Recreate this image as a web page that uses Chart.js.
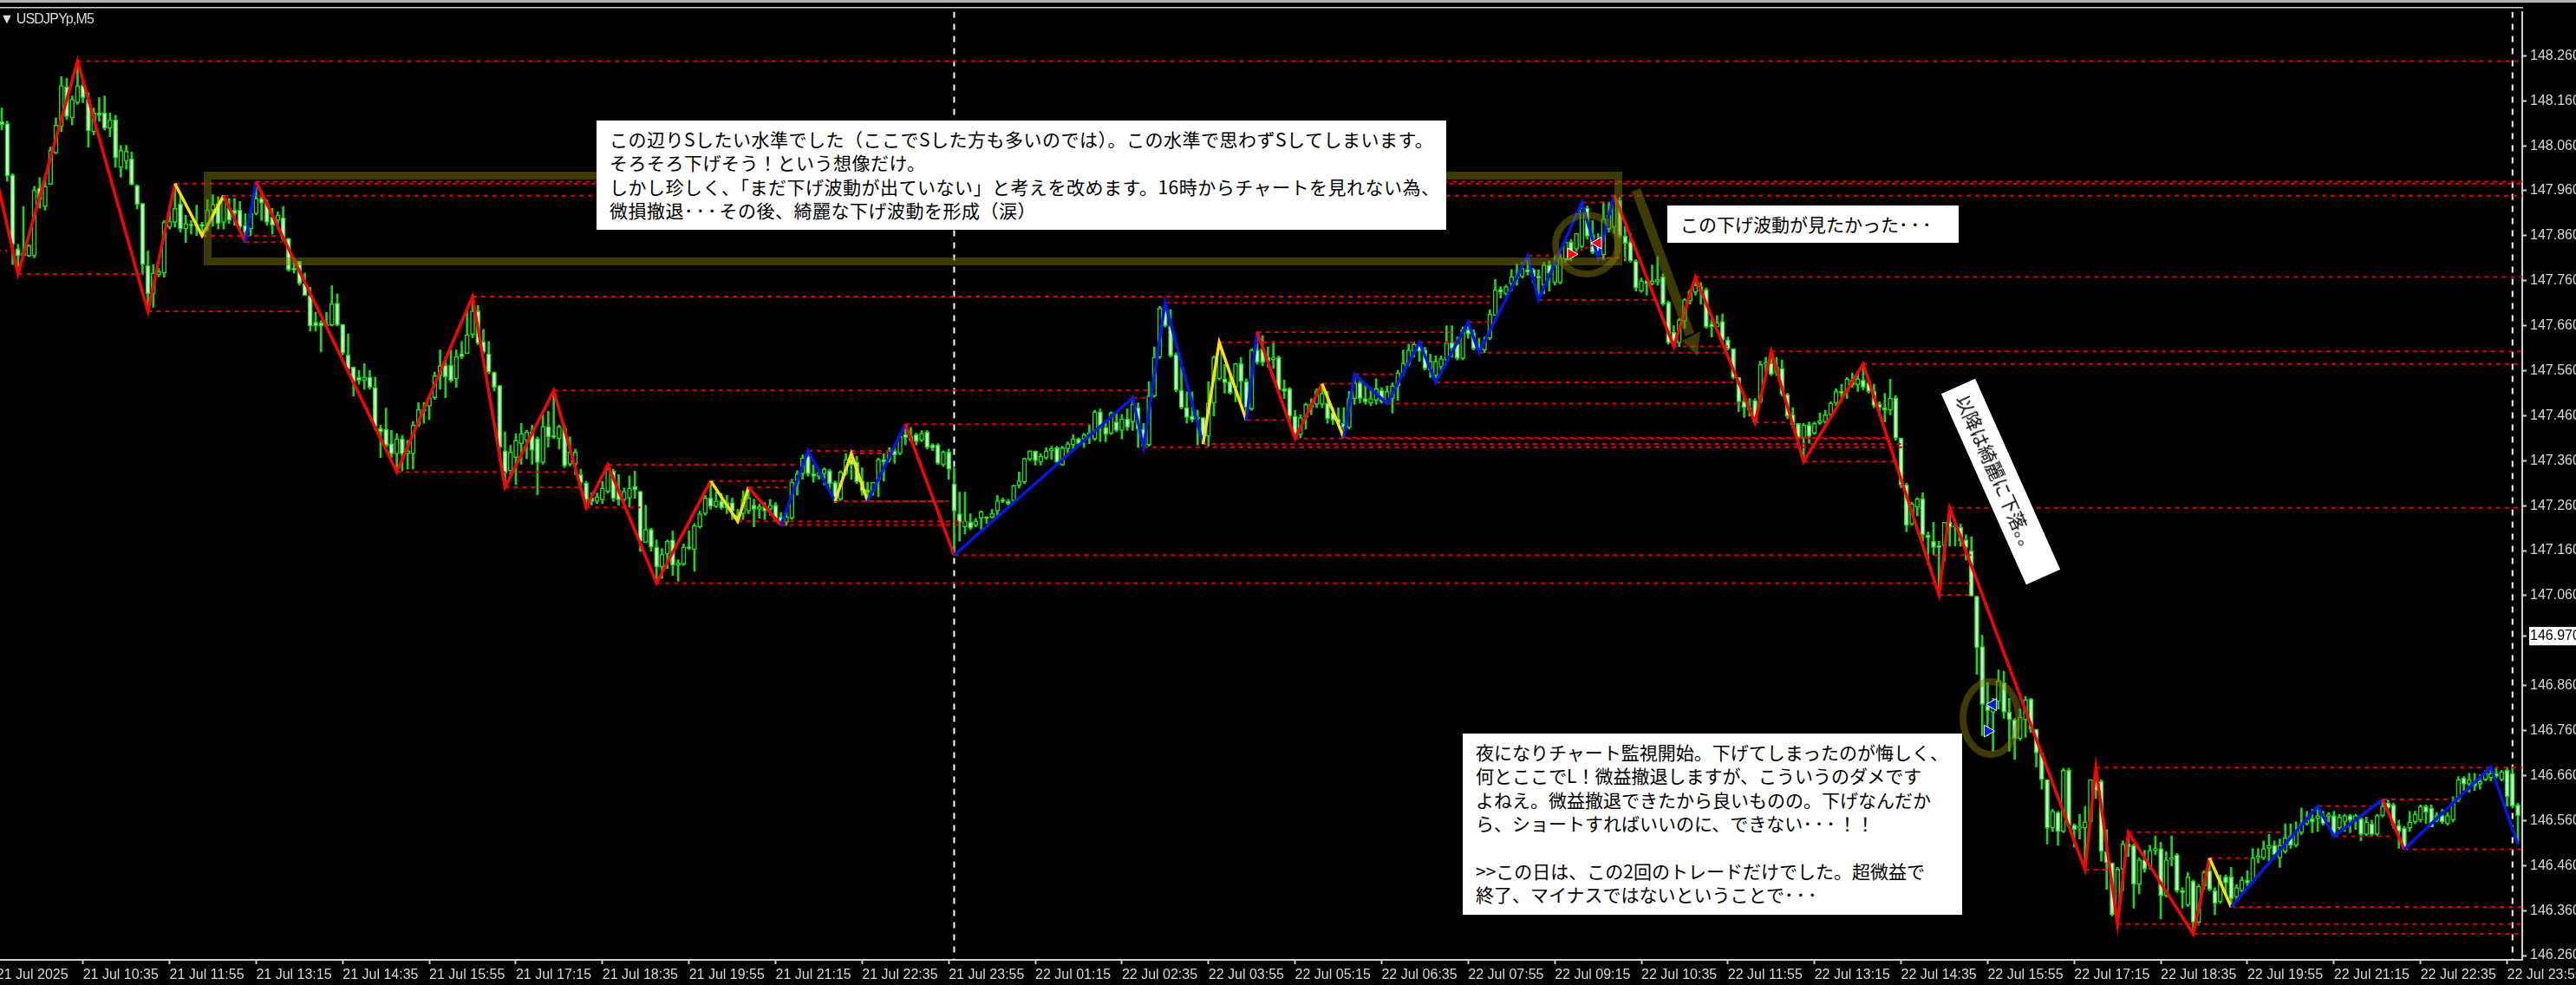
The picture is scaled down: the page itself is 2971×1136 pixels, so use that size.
<!DOCTYPE html>
<html>
<head>
<meta charset="utf-8">
<title>USDJPYp,M5</title>
<script src="https://cdn.jsdelivr.net/npm/chart.js@4/dist/chart.umd.min.js"></script>
<style>
html, body { margin: 0; padding: 0; background: #000; overflow: hidden; }
#wrap { position: relative; width: 2971px; height: 1136px; }
canvas { position: absolute; left: 0; top: 0; }
.note { position: absolute; background: #fff; color: #000; white-space: pre; box-sizing: border-box;
        font-family: "Noto Sans CJK JP", sans-serif; font-size: 21px; line-height: 27.4px; }
.dots { letter-spacing: 3px; }
#symbol { position: absolute; left: 0; top: 13px; color: #ddd; white-space: pre; letter-spacing: -0.8px;
          font-family: "Liberation Sans", sans-serif; font-size: 16px; }
</style>
</head>
<body>
<div id="wrap">
<canvas id="chart" width="2971" height="1136"></canvas>
<div id="symbol">▼ USDJPYp,M5</div>
<div class="note" style="left:688px;top:139px;width:980px;height:126px;padding:8px 0 0 15px;letter-spacing:.5px">この辺りSしたい水準でした（ここでSした方も多いのでは）。この水準で思わずSしてしまいます。
そろそろ下げそう！という想像だけ。
しかし珍しく、「まだ下げ波動が出ていない」と考えを改めます。16時からチャートを見れない為、
微損撤退<span class="dots">･･･</span>その後、綺麗な下げ波動を形成（涙）</div>
<div class="note" style="left:1923px;top:237px;width:336px;height:43px;padding:8px 0 0 15px">この下げ波動が見たかった<span class="dots">･･･</span></div>
<div class="note" style="left:2187px;top:534px;width:241px;height:43px;padding:8px 0 0 12px;transform:rotate(66deg)">以降は綺麗に下落。。</div>
<div class="note" style="left:1687px;top:846px;width:576px;height:209px;padding:8px 0 0 15px">夜になりチャート監視開始。下げてしまったのが悔しく、
何とここでL！微益撤退しますが、こういうのダメです
よねえ。微益撤退できたから良いものの。下げなんだか
ら、ショートすればいいのに、できない<span class="dots">･･･</span>！！

&gt;&gt;この日は、この2回のトレードだけでした。超微益で
終了、マイナスではないということで<span class="dots">･･･</span></div>
</div>
<script>
// 5 minute bars, one entry per bar
var opens = [
148.140,148.114,148.109,147.995,147.830,147.815,147.815,147.815,147.966,147.925,
147.974,148.044,148.103,148.191,148.122,148.156,148.194,148.163,148.091,148.133,
148.134,148.099,148.118,148.012,148.025,148.031,147.972,147.932,147.794,147.731,
147.773,147.777,147.879,147.890,147.931,147.875,147.885,147.882,147.885,147.883,
147.917,147.932,147.890,147.921,147.917,147.917,147.883,147.875,147.909,147.943,
147.932,147.902,147.894,147.900,147.854,147.788,147.803,147.754,147.727,147.668,
147.667,147.659,147.661,147.710,147.663,147.595,147.568,147.546,147.538,147.546,
147.523,147.432,147.430,147.398,147.375,147.409,147.375,147.375,147.439,147.474,
147.481,147.500,147.549,147.572,147.572,147.542,147.598,147.598,147.640,147.693,
147.625,147.598,147.557,147.527,147.382,147.337,147.367,147.398,147.405,147.424,
147.409,147.356,147.436,147.413,147.409,147.432,147.352,147.352,147.329,147.311,
147.277,147.269,147.273,147.292,147.337,147.295,147.273,147.277,147.303,147.292,
147.178,147.207,147.168,147.124,147.152,147.184,147.127,147.130,147.168,147.162,
147.213,147.242,147.277,147.258,147.271,147.255,147.267,147.239,147.242,147.248,
147.261,147.252,147.258,147.252,147.261,147.235,147.223,147.232,147.309,147.331,
147.370,147.331,147.325,147.331,147.338,147.312,147.274,147.331,147.363,147.357,
147.315,147.296,147.293,147.319,147.363,147.363,147.382,147.376,147.418,147.414,
147.418,147.405,147.424,147.395,147.395,147.351,147.379,147.309,147.242,147.213,
147.224,147.216,147.232,147.235,147.234,147.248,147.271,147.270,147.271,147.305,
147.312,147.363,147.381,147.357,147.366,147.382,147.389,147.350,147.386,147.395,
147.408,147.408,147.418,147.408,147.469,147.434,147.421,147.446,147.427,147.453,
147.446,147.478,147.430,147.395,147.504,147.590,147.696,147.660,147.596,147.517,
147.478,147.459,147.453,147.456,147.414,147.488,147.542,147.542,147.536,147.523,
147.576,147.536,147.475,147.606,147.609,147.590,147.585,147.590,147.520,147.520,
147.459,147.418,147.456,147.485,147.485,147.485,147.488,147.466,147.453,147.443,
147.434,147.498,147.533,147.498,147.488,147.494,147.517,147.491,147.498,147.526,
147.555,147.574,147.603,147.619,147.606,147.561,147.549,147.568,147.584,147.622,
147.619,147.587,147.651,147.644,147.609,147.606,147.632,147.683,147.741,147.731,
147.753,147.769,147.769,147.785,147.785,147.769,147.750,147.795,147.756,147.756,
147.808,147.846,147.830,147.836,147.922,147.862,147.839,147.817,147.875,147.878,
147.938,147.859,147.846,147.804,147.737,147.760,147.753,147.757,147.769,147.712,
147.645,147.622,147.670,147.715,147.734,147.747,147.740,147.664,147.657,147.670,
147.629,147.609,147.545,147.491,147.478,147.494,147.491,147.574,147.577,147.555,
147.565,147.507,147.462,147.443,147.411,147.440,147.421,147.443,147.446,147.462,
147.488,147.514,147.514,147.539,147.529,147.539,147.533,147.514,147.485,147.478,
147.472,147.499,147.410,147.306,147.219,147.257,147.275,147.195,147.181,147.170,
147.170,147.223,147.212,147.212,147.184,147.160,147.059,146.947,146.815,146.801,
146.825,146.867,146.801,146.784,146.742,146.784,146.830,146.763,146.710,146.651,
146.543,146.578,146.536,146.672,146.550,146.543,146.543,146.557,146.648,146.648,
146.491,146.466,146.351,146.452,146.508,146.505,146.418,146.473,146.459,146.494,
146.498,146.393,146.473,146.484,146.404,146.372,146.425,146.334,146.414,146.449,
146.404,146.379,146.435,146.435,146.390,146.404,146.428,146.425,146.477,146.477,
146.498,146.505,146.477,146.491,146.526,146.505,146.533,146.553,146.564,146.564,
146.571,146.568,146.571,146.543,146.557,146.571,146.561,146.564,146.529,146.553,
146.529,146.571,146.599,146.595,146.550,146.543,146.543,146.557,146.561,146.592,
146.588,146.561,146.571,146.553,146.561,146.606,146.655,146.641,146.644,146.641,
146.651,146.655,146.665,146.651,146.672,146.665,146.595];
var closes = [
148.120,148.106,147.993,147.841,147.815,147.822,147.838,147.962,147.940,147.970,
148.050,148.106,148.194,148.125,148.163,148.194,148.167,148.093,148.133,148.128,
148.099,148.118,148.033,148.050,148.048,147.974,147.930,147.796,147.731,147.777,
147.780,147.890,147.892,147.921,147.875,147.887,147.882,147.885,147.881,147.917,
147.930,147.887,147.940,147.894,147.909,147.879,147.868,147.909,147.943,147.932,
147.890,147.883,147.906,147.853,147.784,147.784,147.754,147.727,147.659,147.659,
147.659,147.663,147.709,147.661,147.599,147.564,147.534,147.538,147.546,147.523,
147.436,147.424,147.394,147.375,147.409,147.375,147.382,147.439,147.474,147.470,
147.500,147.549,147.571,147.546,147.538,147.591,147.591,147.640,147.693,147.621,
147.601,147.557,147.523,147.390,147.333,147.379,147.405,147.420,147.424,147.383,
147.356,147.436,147.413,147.412,147.436,147.348,147.379,147.379,147.311,147.273,
147.269,147.280,147.299,147.341,147.276,147.273,147.292,147.299,147.295,147.181,
147.207,147.168,147.124,147.152,147.181,147.127,147.133,147.168,147.165,147.216,
147.242,147.277,147.258,147.271,147.255,147.267,147.248,147.229,147.274,147.277,
147.252,147.258,147.248,147.261,147.229,147.226,147.235,147.312,147.331,147.366,
147.331,147.325,147.334,147.341,147.309,147.271,147.335,147.363,147.350,147.312,
147.293,147.290,147.312,147.363,147.357,147.382,147.373,147.414,147.411,147.405,
147.402,147.421,147.389,147.388,147.354,147.379,147.341,147.248,147.223,147.226,
147.210,147.226,147.247,147.232,147.243,147.271,147.269,147.264,147.305,147.315,
147.365,147.382,147.360,147.370,147.382,147.387,147.357,147.389,147.398,147.408,
147.398,147.418,147.421,147.469,147.434,147.418,147.466,147.427,147.453,147.434,
147.485,147.430,147.392,147.504,147.590,147.699,147.660,147.593,147.517,147.478,
147.456,147.451,147.456,147.414,147.488,147.590,147.609,147.533,147.510,147.576,
147.536,147.478,147.606,147.578,147.578,147.581,147.587,147.517,147.514,147.459,
147.418,147.456,147.485,147.478,147.514,147.510,147.453,147.450,147.443,147.434,
147.498,147.533,147.498,147.491,147.498,147.520,147.491,147.514,147.526,147.555,
147.577,147.606,147.619,147.603,147.565,147.581,147.581,147.587,147.622,147.610,
147.587,147.651,147.641,147.609,147.603,147.625,147.686,147.740,147.734,147.747,
147.769,147.766,147.788,147.779,147.769,147.766,147.795,147.776,147.795,147.811,
147.846,147.811,147.865,147.922,147.859,147.823,147.817,147.897,147.906,147.938,
147.859,147.843,147.804,147.744,147.760,147.753,147.760,147.763,147.708,147.622,
147.616,147.673,147.718,147.737,147.750,147.737,147.657,147.657,147.667,147.629,
147.609,147.545,147.491,147.478,147.472,147.446,147.574,147.577,147.552,147.568,
147.507,147.459,147.440,147.411,147.440,147.414,147.443,147.449,147.462,147.488,
147.514,147.510,147.542,147.529,147.542,147.523,147.514,147.482,147.478,147.472,
147.499,147.410,147.306,147.216,147.264,147.275,147.195,147.188,147.167,147.167,
147.223,147.212,147.215,147.181,147.167,147.059,146.944,146.818,146.804,146.825,
146.871,146.801,146.784,146.742,146.790,146.829,146.763,146.710,146.651,146.543,
146.581,146.536,146.672,146.550,146.540,146.546,146.557,146.651,146.627,146.491,
146.466,146.351,146.452,146.508,146.501,146.418,146.473,146.452,146.494,146.498,
146.393,146.473,146.477,146.404,146.400,146.435,146.334,146.414,146.445,146.407,
146.376,146.425,146.421,146.386,146.411,146.428,146.421,146.477,146.480,146.498,
146.505,146.484,146.505,146.522,146.505,146.536,146.553,146.561,146.557,146.571,
146.553,146.573,146.533,146.568,146.571,146.561,146.571,146.529,146.557,146.529,
146.571,146.592,146.588,146.550,146.536,146.498,146.557,146.574,146.592,146.578,
146.546,146.571,146.557,146.571,146.599,146.651,146.641,146.651,146.637,146.648,
146.665,146.665,146.658,146.669,146.613,146.592,146.571];
var highs = [
148.160,148.144,148.115,147.998,147.841,147.925,147.841,147.970,147.989,147.989,
148.057,148.122,148.214,148.210,148.171,148.248,148.205,148.178,148.144,148.167,
148.171,148.133,148.128,148.061,148.061,148.046,147.974,147.932,147.826,147.796,
147.788,147.894,147.921,147.976,147.951,147.906,147.894,147.928,147.890,147.940,
147.951,147.947,147.949,147.943,147.943,147.936,147.909,147.913,147.979,147.959,
147.940,147.921,147.913,147.925,147.855,147.803,147.803,147.777,147.746,147.690,
147.671,147.690,147.749,147.731,147.663,147.642,147.568,147.561,147.576,147.561,
147.546,147.439,147.477,147.428,147.420,147.417,147.405,147.447,147.489,147.489,
147.504,147.557,147.606,147.591,147.606,147.606,147.625,147.693,147.725,147.705,
147.652,147.625,147.557,147.527,147.424,147.394,147.420,147.443,147.428,147.439,
147.413,147.462,147.470,147.515,147.439,147.439,147.413,147.386,147.341,147.314,
147.288,147.288,147.314,147.351,147.341,147.329,147.299,147.326,147.337,147.292,
147.261,147.210,147.184,147.165,147.184,147.204,147.140,147.175,147.204,147.220,
147.248,147.283,147.315,147.290,147.287,147.283,147.277,147.252,147.293,147.301,
147.274,147.264,147.267,147.274,147.267,147.245,147.245,147.319,147.338,147.373,
147.381,147.351,147.341,147.344,147.341,147.315,147.338,147.376,147.376,147.370,
147.344,147.312,147.312,147.366,147.376,147.389,147.389,147.418,147.441,147.434,
147.421,147.427,147.427,147.398,147.398,147.382,147.386,147.344,147.290,147.290,
147.242,147.232,147.248,147.235,147.252,147.283,147.277,147.274,147.306,147.335,
147.366,147.382,147.382,147.376,147.389,147.392,147.392,147.392,147.402,147.418,
147.411,147.421,147.440,147.472,147.475,147.450,147.469,147.469,147.463,147.475,
147.500,147.488,147.443,147.536,147.613,147.703,147.711,147.696,147.600,147.568,
147.513,147.513,147.472,147.456,147.536,147.593,147.623,147.574,147.555,147.577,
147.590,147.542,147.609,147.646,147.638,147.613,147.625,147.593,147.539,147.523,
147.472,147.462,147.488,147.498,147.520,147.531,147.514,147.478,147.478,147.478,
147.514,147.552,147.542,147.530,147.523,147.542,147.523,147.526,147.533,147.561,
147.606,147.619,147.624,147.623,147.612,147.597,147.593,147.593,147.660,147.660,
147.635,147.657,147.668,147.651,147.632,147.635,147.696,147.763,147.747,147.750,
147.785,147.798,147.801,147.816,147.788,147.785,147.801,147.804,147.814,147.820,
147.846,147.852,147.865,147.934,147.926,147.894,147.865,147.935,147.935,147.950,
147.945,147.881,147.865,147.807,147.766,147.763,147.795,147.814,147.776,147.715,
147.660,147.676,147.721,147.740,147.768,147.756,147.744,147.676,147.683,147.686,
147.635,147.609,147.545,147.507,147.498,147.498,147.581,147.590,147.603,147.590,
147.584,147.510,147.478,147.443,147.443,147.446,147.446,147.466,147.472,147.491,
147.520,147.530,147.545,147.555,147.552,147.575,147.542,147.530,147.491,147.510,
147.541,147.505,147.410,147.310,147.268,147.278,147.289,147.202,147.223,147.181,
147.223,147.255,147.223,147.219,147.195,147.191,147.059,146.972,146.867,146.832,
146.895,146.892,146.832,146.787,146.808,146.836,146.832,146.763,146.710,146.651,
146.585,146.581,146.676,146.676,146.553,146.574,146.592,146.651,146.678,146.651,
146.540,146.466,146.456,146.515,146.534,146.508,146.477,146.494,146.505,146.526,
146.512,146.491,146.526,146.487,146.411,146.445,146.428,146.418,146.449,146.477,
146.411,146.439,146.439,146.456,146.418,146.435,146.449,146.498,146.498,146.515,
146.529,146.515,146.519,146.553,146.553,146.557,146.588,146.581,146.585,146.592,
146.581,146.578,146.581,146.574,146.574,146.574,146.574,146.571,146.568,146.561,
146.574,146.607,146.606,146.599,146.561,146.547,146.581,146.581,146.595,146.595,
146.595,146.578,146.585,146.578,146.613,146.658,146.658,146.665,146.665,146.662,
146.672,146.679,146.676,146.672,146.679,146.679,146.599];
var lows = [
148.090,148.095,147.981,147.796,147.775,147.815,147.813,147.811,147.921,147.917,
147.974,148.042,148.091,148.118,148.106,148.152,148.156,148.057,148.084,148.114,
148.095,148.080,148.012,147.990,148.008,147.972,147.919,147.773,147.692,147.701,
147.769,147.768,147.875,147.879,147.868,147.845,147.864,147.860,147.860,147.871,
147.881,147.875,147.875,147.887,147.883,147.875,147.846,147.860,147.906,147.894,
147.883,147.864,147.875,147.849,147.781,147.777,147.750,147.727,147.648,147.648,
147.602,147.659,147.659,147.659,147.595,147.561,147.504,147.530,147.519,147.519,
147.428,147.367,147.390,147.367,147.335,147.337,147.341,147.341,147.436,147.443,
147.451,147.496,147.519,147.500,147.534,147.523,147.587,147.598,147.633,147.618,
147.598,147.553,147.515,147.360,147.301,147.322,147.307,147.352,147.364,147.352,
147.284,147.352,147.390,147.409,147.386,147.345,147.348,147.329,147.299,147.256,
147.261,147.265,147.265,147.288,147.269,147.261,147.269,147.257,147.276,147.158,
147.181,147.159,147.088,147.098,147.120,147.105,147.092,147.127,147.162,147.114,
147.210,147.239,147.252,147.255,147.252,147.242,147.229,147.223,147.229,147.242,
147.213,147.232,147.229,147.239,147.226,147.217,147.216,147.229,147.283,147.319,
147.325,147.312,147.319,147.306,147.293,147.267,147.271,147.328,147.319,147.309,
147.283,147.271,147.283,147.280,147.315,147.357,147.354,147.373,147.395,147.402,
147.395,147.402,147.386,147.382,147.351,147.347,147.319,147.150,147.181,147.197,
147.207,147.213,147.207,147.220,147.232,147.239,147.267,147.261,147.267,147.299,
147.309,147.360,147.350,147.350,147.363,147.363,147.354,147.349,147.376,147.386,
147.392,147.389,147.398,147.405,147.402,147.402,147.418,147.424,147.408,147.427,
147.427,147.389,147.389,147.392,147.501,147.587,147.657,147.590,147.513,147.475,
147.443,147.446,147.395,147.397,147.392,147.459,147.539,147.510,147.507,147.491,
147.491,147.453,147.472,147.574,147.571,147.568,147.565,147.514,147.498,147.440,
147.409,147.411,147.430,147.462,147.478,147.478,147.443,147.440,147.440,147.411,
147.430,147.485,147.488,147.485,147.482,147.485,147.488,147.487,147.466,147.494,
147.549,147.571,147.590,147.581,147.561,147.545,147.534,147.555,147.581,147.590,
147.584,147.584,147.632,147.606,147.601,147.600,147.629,147.683,147.721,147.728,
147.737,147.750,147.766,147.772,147.756,147.717,147.731,147.737,147.750,147.753,
147.801,147.804,147.823,147.833,147.852,147.820,147.812,147.807,147.868,147.865,
147.855,147.804,147.801,147.737,147.734,147.728,147.750,147.750,147.705,147.619,
147.614,147.613,147.654,147.708,147.728,147.708,147.654,147.635,147.657,147.625,
147.606,147.542,147.469,147.456,147.459,147.445,147.488,147.558,147.549,147.549,
147.504,147.453,147.434,147.395,147.358,147.399,147.418,147.440,147.443,147.459,
147.482,147.498,147.498,147.523,147.514,147.517,147.510,147.478,147.459,147.446,
147.462,147.405,147.300,147.202,147.216,147.237,147.181,147.129,147.150,147.062,
147.136,147.170,147.170,147.170,147.139,147.059,146.885,146.749,146.749,146.714,
146.808,146.787,146.714,146.696,146.738,146.745,146.756,146.679,146.630,146.508,
146.536,146.505,146.533,146.547,146.501,146.519,146.451,146.553,146.609,146.470,
146.407,146.348,146.330,146.404,146.480,146.365,146.397,146.445,146.452,146.484,
146.341,146.390,146.459,146.400,146.365,146.369,146.308,146.327,146.407,146.404,
146.351,146.376,146.397,146.368,146.379,146.400,146.414,146.421,146.466,146.473,
146.470,146.480,146.456,146.487,146.498,146.501,146.529,146.550,146.533,146.536,
146.550,146.557,146.525,146.540,146.536,146.533,146.540,146.515,146.526,146.526,
146.526,146.568,146.581,146.543,146.498,146.496,146.536,146.553,146.557,146.553,
146.546,146.557,146.553,146.550,146.557,146.602,146.627,146.623,146.627,146.630,
146.648,146.648,146.655,146.648,146.592,146.588,146.508];

// zigzag turning points
var zigBars = [0,4,15,28,33,38,42,46,48,74,88,94,103,109,113,122,132,137,139,145,150,155,158,161,168,177,210,212,216,223,226,231,233,240,245,249,251,257,263,266,272,274,283,285,293,296,299,310,314,325,328,334,345,359,361,386,388,392,394,406,409,413,429,432,441,445,461,466];
var zigPrices = [147.990,147.775,148.248,147.692,147.976,147.860,147.949,147.846,147.980,147.335,147.725,147.301,147.516,147.256,147.351,147.088,147.315,147.225,147.301,147.217,147.382,147.270,147.376,147.270,147.441,147.150,147.500,147.390,147.711,147.397,147.623,147.450,147.646,147.409,147.531,147.411,147.552,147.487,147.623,147.534,147.668,147.600,147.816,147.717,147.934,147.811,147.950,147.614,147.768,147.445,147.603,147.358,147.575,147.062,147.255,146.451,146.678,146.330,146.534,146.308,146.477,146.368,146.592,146.525,146.607,146.496,146.679,146.507];
// colour of the leg that ends at each turning point
var zigColors = 'rrrrryyrbr' + 'rrrrrrryyr' + 'bbyybrbbbb' + 'yybrrybbbb' + 'bbbbbbbrrr' + 'rrrrrrrrrr' + 'rybbbrbb';

// horizontal levels left by the zigzag indicator
var levelPrices = [148.248,147.976,147.980,147.949,147.775,147.827,147.692,147.860,147.846,147.725,147.711,147.335,147.516,147.301,147.256,147.351,147.315,147.301,147.088,147.225,147.217,147.382,147.376,147.270,147.270,147.441,147.150,147.500,147.390,147.397,147.623,147.450,147.646,147.409,147.411,147.552,147.531,147.487,147.534,147.600,147.668,147.717,147.816,147.934,147.811,147.614,147.768,147.603,147.575,147.445,147.358,147.255,147.062,146.678,146.451,146.534,146.477,146.368,146.330,146.308,146.592,146.525,146.607,146.496];
var levelFrom = [15,33,48,42,4,0,28,38,46,88,216,74,103,94,109,113,132,139,122,137,145,150,158,155,161,168,177,210,212,223,226,231,233,240,249,251,245,257,266,274,272,285,283,293,296,310,314,328,345,325,334,361,359,388,386,394,409,413,392,406,429,432,441,445];
var levelTo = [467,467,467,467,27,2,57,53,53,276,276,106,213,108,119,148,147,146,365,179,179,165,165,176,176,202,365,213,353,353,270,238,269,350,350,259,251,322,321,320,276,307,289,298,301,320,467,467,467,332,351,467,365,467,390,423,417,467,467,467,440,443,454,467];

// day separators
var separatorBars = [177,465];

// trades marked on the chart (entry, exit)
var redTradeBars = [291,296], redTradePrices = [147.819,147.844];
var blueTradeBars = [368,369], blueTradePrices = [146.759,146.818];

var tickLabels = ['21 Jul 2025','21 Jul 10:35','21 Jul 11:55','21 Jul 13:15','21 Jul 14:35','21 Jul 15:55','21 Jul 17:15','21 Jul 18:35','21 Jul 19:55','21 Jul 21:15','21 Jul 22:35','21 Jul 23:55','22 Jul 01:15','22 Jul 02:35','22 Jul 03:55','22 Jul 05:15','22 Jul 06:35','22 Jul 07:55','22 Jul 09:15','22 Jul 10:35','22 Jul 11:55','22 Jul 13:15','22 Jul 14:35','22 Jul 15:55','22 Jul 17:15','22 Jul 18:35','22 Jul 19:55','22 Jul 21:15','22 Jul 22:35','22 Jul 23:55'];
var priceTicks = [148.26,148.16,148.06,147.96,147.86,147.76,147.66,147.56,147.46,147.36,147.26,147.16,147.06,146.97,146.86,146.76,146.66,146.56,146.46,146.36,146.26];
var lastPrice = 146.97;

var axisFont = { family: '"Liberation Sans", sans-serif', size: 16 };
var axisColor = '#d8d8d8';

var wickData = [], bodyData = [];
closes.forEach(function(c, i) {
    wickData.push({ x: i, y: [lows[i], highs[i]] });
    bodyData.push({ x: i, y: [opens[i], c] });
});

var levelData = [];
levelPrices.forEach(function(p, i) {
    levelData.push({ x: levelFrom[i], y: p }, { x: levelTo[i], y: p }, { x: levelTo[i], y: null });
});

var separatorData = [];
separatorBars.forEach(function(b) {
    separatorData.push({ x: b, y: 148.358 }, { x: b, y: 146.25 }, { x: b, y: null });
});

var zigData = zigBars.map(function(b, i) { return { x: b, y: zigPrices[i] }; });
var zigPalette = { r: '#ff0000', y: '#ffe000', b: '#0018e8' };

function tradeData(bars, prices) {
    return bars.map(function(b, i) { return { x: b, y: prices[i] }; });
}
function tradeSet(data, color) {
    return {
        type: 'line', data: data, order: 1,
        borderColor: color, borderWidth: 2, borderDash: [3, 3],
        pointStyle: 'triangle', pointRotation: [90, -90], pointRadius: 8,
        pointBackgroundColor: color, pointBorderColor: '#fff', pointBorderWidth: 1
    };
}

// the hand drawn olive marks and the window frame
var drawings = {
    id: 'drawings',
    beforeDraw: function(chart) {
        var c = chart.ctx;
        c.save();
        c.fillStyle = '#000';
        c.fillRect(0, 0, 2971, 1136);
        c.fillStyle = '#b4b4b4';
        c.fillRect(0, 0, 2971, 3);
        c.fillStyle = '#d0d0d0';
        c.fillRect(0, 8, 2910, 1.5);
        c.restore();
    },
    afterDatasetsDraw: function(chart) {
        var c = chart.ctx;
        c.save();
        c.strokeStyle = c.fillStyle = 'rgba(130,122,0,0.48)';
        c.lineWidth = 9;
        c.strokeRect(239.5, 202.5, 1627, 99);
        c.lineWidth = 8;
        c.beginPath();
        c.ellipse(1830, 282, 36, 34, 0, 0, Math.PI * 2);
        c.stroke();
        c.beginPath();
        c.ellipse(2296, 828, 32, 42, 0, 0, Math.PI * 2);
        c.stroke();
        c.lineWidth = 11;
        c.beginPath();
        c.moveTo(1887, 219);
        c.lineTo(1949, 386);
        c.stroke();
        c.beginPath();
        c.moveTo(1958, 411);
        c.lineTo(1940, 393);
        c.lineTo(1961, 382);
        c.closePath();
        c.fill();
        c.restore();
    }
};

var canvas = document.getElementById('chart');
// the terminal font is narrow and none is installed, so tighten the axis text
canvas.getContext('2d').letterSpacing = '-1.1px';

new Chart(canvas, {
    type: 'bar',
    plugins: [drawings],
    data: {
        datasets: [{
            data: wickData, order: 6, grouped: false,
            barThickness: 2, backgroundColor: '#1cd21c', borderWidth: 0
        }, {
            data: bodyData, order: 5, grouped: false,
            barThickness: 5, minBarLength: 2, borderWidth: 1.5, borderSkipped: false,
            borderColor: '#18e018',
            backgroundColor: function(ctx) {
                var i = ctx.dataIndex;
                return closes[i] >= opens[i] ? '#000000' : '#d0ffd0';
            }
        }, {
            type: 'line', data: separatorData, order: 7,
            borderColor: '#ffffff', borderWidth: 2, borderDash: [7, 7], pointRadius: 0
        }, {
            type: 'line', data: levelData, order: 4,
            borderColor: '#e00000', borderWidth: 2, borderDash: [5, 5], pointRadius: 0
        }, {
            type: 'line', data: zigData, order: 3,
            borderWidth: 3.5, pointRadius: 0, borderColor: '#ff0000',
            segment: {
                borderColor: function(ctx) { return zigPalette[zigColors[ctx.p1DataIndex]]; }
            }
        },
        tradeSet(tradeData(redTradeBars, redTradePrices), '#ff0000'),
        tradeSet(tradeData(blueTradeBars, blueTradePrices), '#0018e8')]
    },
    options: {
        responsive: false,
        devicePixelRatio: 1,
        animation: false,
        events: [],
        layout: { autoPadding: false, padding: { top: 8, left: 0, right: 0, bottom: 0 } },
        plugins: { legend: { display: false }, title: { display: false }, tooltip: { enabled: false } },
        scales: {
            x: {
                type: 'linear',
                min: 0.665,
                max: 466.8,
                offset: false,
                afterBuildTicks: function(scale) {
                    scale.ticks = tickLabels.map(function(t, i) { return { value: i * 16 }; });
                },
                afterFit: function(scale) {
                    scale.height = 29;
                    scale.paddingLeft = 0;
                    scale.paddingRight = 0;
                },
                border: { color: '#d0d0d0', width: 2 },
                grid: { offset: false, drawOnChartArea: false, color: '#d0d0d0', tickLength: 5, tickWidth: 2 },
                ticks: {
                    autoSkip: false, maxRotation: 0, align: 'start', padding: 3,
                    color: axisColor, font: axisFont,
                    callback: function(v, i) { return tickLabels[i]; }
                }
            },
            y: {
                position: 'right',
                min: 146.2504,
                max: 148.3578,
                afterBuildTicks: function(scale) {
                    scale.ticks = priceTicks.map(function(p) { return { value: p }; });
                },
                afterFit: function(scale) { scale.width = 62; },
                border: { color: '#d0d0d0', width: 2 },
                grid: { drawOnChartArea: false, color: '#d0d0d0', tickLength: 5, tickWidth: 2 },
                ticks: {
                    autoSkip: false, padding: 4, font: axisFont,
                    color: function(ctx) { return ctx.tick && ctx.tick.value === lastPrice ? '#000' : axisColor; },
                    showLabelBackdrop: function(ctx) { return !!ctx.tick && ctx.tick.value === lastPrice; },
                    backdropColor: '#ffffff',
                    backdropPadding: 1,
                    callback: function(v) { return v.toFixed(3); }
                }
            }
        }
    }
});
</script>
</body>
</html>
